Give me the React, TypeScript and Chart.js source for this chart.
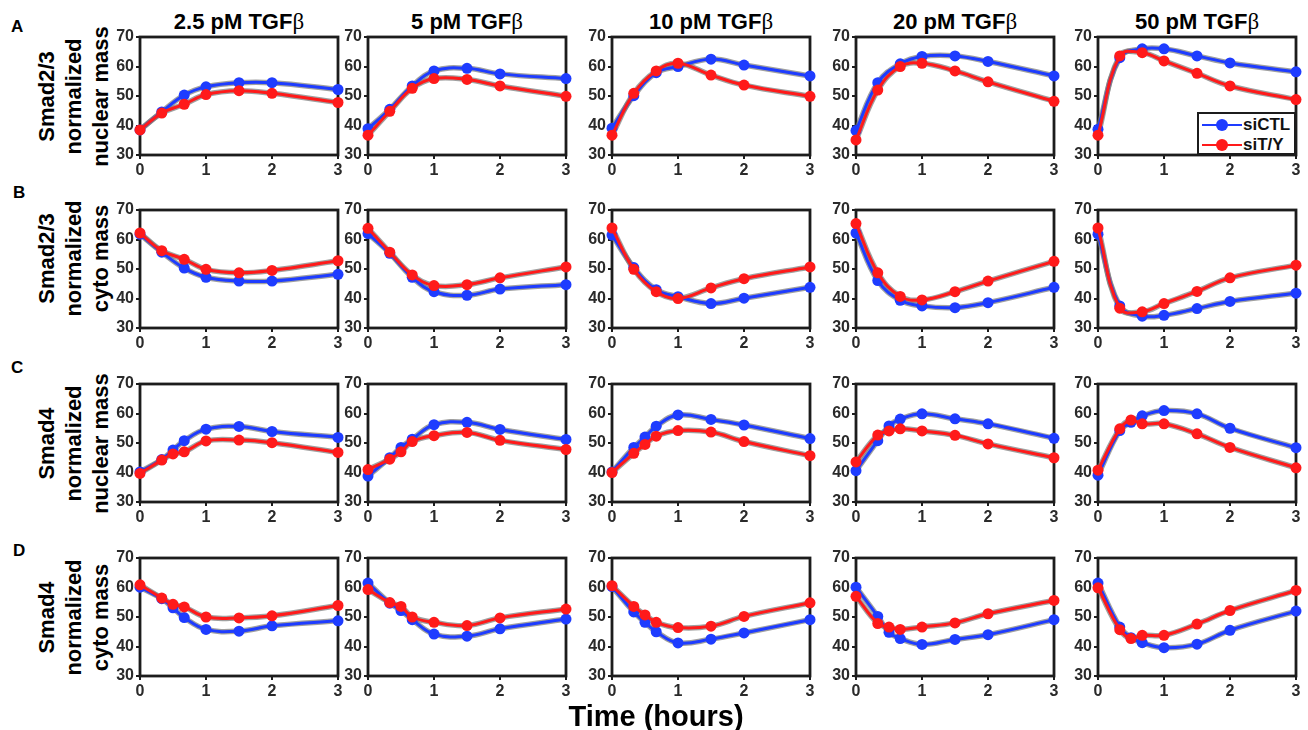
import React, { useEffect, useRef } from "react";
import { Chart, registerables } from "chart.js";

Chart.register(...registerables);

// ---------- data ----------
const timesAB = [0, 0.33, 0.67, 1, 1.5, 2, 3];
const timesCD = [0, 0.33, 0.5, 0.67, 1, 1.5, 2, 3];

const columnTitles = ["2.5 pM TGF", "5 pM TGF", "10 pM TGF", "20 pM TGF", "50 pM TGF"];
const rowLetters = ["A", "B", "C", "D"];
const rowTitles = [
  ["Smad2/3", "normalized", "nuclear mass"],
  ["Smad2/3", "normalized", "cyto mass"],
  ["Smad4", "normalized", "nuclear mass"],
  ["Smad4", "normalized", "cyto mass"],
];
const seriesNames = ["siCTL", "siT/Y"];
const xTickValues = [0, 1, 2, 3];
const yTickValues = [30, 40, 50, 60, 70];
const xAxisTitle = "Time (hours)";

// Row A: Smad2/3 nuclear
const smad23NucCTL = [
  [38.5, 44.6, 50.3, 53.1, 54.5, 54.5, 52.2],
  [38.9, 45.5, 53.4, 58.5, 59.4, 57.5, 55.9],
  [39.1, 50.1, 57.9, 60.0, 62.5, 60.5, 56.8],
  [38.3, 54.5, 60.9, 63.4, 63.6, 61.7, 56.8],
  [38.7, 63.0, 66.0, 66.0, 63.6, 61.2, 58.2],
];
const smad23NucTY = [
  [38.5, 44.2, 47.2, 50.5, 51.8, 50.9, 47.8],
  [36.7, 44.8, 52.6, 55.9, 55.6, 53.4, 49.9],
  [36.7, 50.9, 58.5, 61.1, 57.1, 53.7, 49.9],
  [35.1, 52.0, 60.0, 61.1, 58.5, 54.8, 48.2],
  [36.7, 63.6, 64.7, 61.9, 57.7, 53.4, 48.8],
];
// Row B: Smad2/3 cyto
const smad23CytoCTL = [
  [61.8, 55.7, 50.3, 47.2, 45.9, 45.9, 48.2],
  [62.0, 55.3, 47.2, 42.3, 41.1, 43.2, 44.7],
  [61.5, 50.5, 43.0, 40.6, 38.3, 40.1, 43.8],
  [62.2, 46.1, 39.4, 37.5, 36.9, 38.6, 43.8],
  [61.8, 37.5, 34.0, 34.3, 36.6, 39.0, 41.8],
];
const smad23CytoTY = [
  [62.2, 56.2, 53.3, 49.9, 48.7, 49.5, 52.8],
  [63.8, 55.7, 48.0, 44.4, 44.7, 47.0, 50.7],
  [63.9, 49.9, 42.3, 40.0, 43.6, 46.7, 50.7],
  [65.4, 48.7, 40.7, 39.5, 42.3, 45.9, 52.6],
  [63.9, 36.7, 35.5, 38.3, 42.4, 47.0, 51.3],
];
// Row C: Smad4 nuclear
const smad4NucCTL = [
  [40.2, 44.4, 47.6, 50.8, 54.7, 55.6, 53.9, 51.9],
  [38.8, 45.0, 48.5, 51.3, 56.2, 57.0, 54.6, 51.2],
  [40.2, 48.5, 52.0, 55.7, 59.5, 58.0, 56.1, 51.5],
  [40.6, 50.8, 55.8, 58.1, 59.9, 58.2, 56.5, 51.6],
  [39.1, 54.2, 57.0, 59.2, 61.0, 59.9, 55.0, 48.4],
];
const smad4NucTY = [
  [39.7, 44.2, 46.3, 47.0, 50.7, 51.0, 50.1, 46.8],
  [41.0, 44.5, 47.0, 50.5, 52.5, 53.6, 50.9, 47.8],
  [40.0, 46.5, 49.5, 52.3, 54.2, 53.7, 50.5, 45.7],
  [43.6, 52.7, 54.1, 54.8, 54.1, 52.6, 49.7, 45.0],
  [40.8, 54.8, 57.8, 56.5, 56.5, 53.1, 48.5, 41.6],
];
// Row D: Smad4 cyto
const smad4CytoCTL = [
  [60.1, 56.2, 53.1, 49.8, 45.8, 45.2, 47.0, 48.7],
  [61.5, 54.7, 52.2, 49.1, 44.2, 43.5, 46.0, 49.3],
  [60.3, 51.7, 48.2, 45.0, 41.2, 42.5, 44.6, 49.1],
  [60.1, 50.2, 44.8, 42.7, 40.7, 42.4, 44.0, 49.1],
  [61.5, 46.6, 43.0, 41.3, 39.6, 40.8, 45.5, 52.0],
];
const smad4CytoTY = [
  [60.9, 56.4, 54.3, 53.4, 50.0, 49.7, 50.4, 53.9],
  [59.3, 54.9, 53.6, 50.0, 48.2, 47.1, 49.7, 52.7],
  [60.6, 53.6, 50.7, 48.2, 46.4, 46.9, 50.2, 54.8],
  [57.0, 47.8, 46.6, 45.8, 46.6, 48.0, 51.1, 55.6],
  [59.9, 45.7, 42.7, 43.8, 43.8, 47.6, 52.2, 59.0],
];

const rows = [
  { times: timesAB, ctl: smad23NucCTL, ty: smad23NucTY },
  { times: timesAB, ctl: smad23CytoCTL, ty: smad23CytoTY },
  { times: timesCD, ctl: smad4NucCTL, ty: smad4NucTY },
  { times: timesCD, ctl: smad4CytoCTL, ty: smad4CytoTY },
];

// ---------- layout / style ----------
const PLOT_LEFTS = [140, 368, 612, 856, 1098];
const PLOT_TOPS = [37, 210, 384, 558];
const PLOT_W = 198;
const PLOT_H = 118;
const PAD_L = 44;
const PAD_T = 12;
const PAD_R = 12;
const PAD_B = 26;

const BLUE = "#1e3cff";
const RED = "#ff1a1a";
const GRAY = "rgba(120,120,120,0.7)";
const AXIS = "#1c1c1c";
const SANS = "'Liberation Sans', Arial, Helvetica, sans-serif";

const framePlugin = {
  id: "frame",
  beforeDatasetsDraw(chart: any) {
    const { ctx, chartArea: a } = chart;
    ctx.save();
    ctx.strokeStyle = AXIS;
    ctx.lineWidth = 2.8;
    ctx.strokeRect(a.left, a.top, a.right - a.left, a.bottom - a.top);
    ctx.restore();
  },
};

function Panel(props: { left: number; top: number; times: number[]; ctl: number[]; ty: number[] }) {
  const ref = useRef<HTMLCanvasElement | null>(null);
  const { left, top, times, ctl, ty } = props;
  useEffect(() => {
    if (!ref.current) return;
    const pts = (v: number[]) => v.map((y, i) => ({ x: times[i], y }));
    const tickFont = { family: SANS, weight: "bold" as const, size: 16 };
    const grid = {
      drawOnChartArea: false,
      drawTicks: true,
      tickLength: 4,
      color: AXIS,
      lineWidth: 2,
    };
    const line = (label: string, v: number[], color: string, order: number) => ({
      label,
      data: pts(v),
      borderColor: color,
      backgroundColor: color,
      pointBackgroundColor: color,
      pointBorderColor: color,
      borderWidth: 3,
      pointRadius: 5.5,
      pointBorderWidth: 0,
      tension: 0.4,
      order,
      clip: false,
    });
    const band = (label: string, v: number[], order: number) => ({
      label,
      data: pts(v),
      borderColor: GRAY,
      borderWidth: 5.5,
      pointRadius: 0,
      tension: 0.4,
      order,
      clip: false,
    });
    const chart = new Chart(ref.current, {
      type: "line",
      data: {
        datasets: [
          line(seriesNames[1], ty, RED, 0),
          line(seriesNames[0], ctl, BLUE, 1),
          band(seriesNames[1] + " sem", ty, 2),
          band(seriesNames[0] + " sem", ctl, 3),
        ],
      },
      options: {
        responsive: false,
        animation: false,
        devicePixelRatio: 1,
        layout: { padding: { top: PAD_T, right: PAD_R, left: 0, bottom: 0 } },
        plugins: { legend: { display: false }, tooltip: { enabled: false } },
        scales: {
          x: {
            type: "linear",
            min: xTickValues[0],
            max: xTickValues[xTickValues.length - 1],
            afterFit: (s: any) => {
              s.height = PAD_B;
            },
            afterBuildTicks: (s: any) => {
              s.ticks = xTickValues.map((v) => ({ value: v }));
            },
            ticks: { font: tickFont, color: "#2a2a2a", padding: 2, maxRotation: 0, autoSkip: false },
            grid,
            border: { display: false },
          },
          y: {
            type: "linear",
            min: yTickValues[0],
            max: yTickValues[yTickValues.length - 1],
            afterFit: (s: any) => {
              s.width = PAD_L;
            },
            afterBuildTicks: (s: any) => {
              s.ticks = yTickValues.map((v) => ({ value: v }));
            },
            ticks: { font: tickFont, color: "#2a2a2a", padding: 2, autoSkip: false },
            grid,
            border: { display: false },
          },
        },
      } as any,
      plugins: [framePlugin],
    });
    return () => chart.destroy();
  }, []);
  const w = PLOT_W + PAD_L + PAD_R;
  const h = PLOT_H + PAD_T + PAD_B;
  return (
    <canvas
      ref={ref}
      width={w}
      height={h}
      style={{ position: "absolute", left: left - PAD_L, top: top - PAD_T, width: w, height: h }}
    />
  );
}

function Legend() {
  const left = PLOT_LEFTS[4] + PLOT_W - 99;
  const top = PLOT_TOPS[0] + PLOT_H - 43;
  const entries = [
    { name: seriesNames[0], color: BLUE, y: 12 },
    { name: seriesNames[1], color: RED, y: 32 },
  ];
  return (
    <div
      style={{
        position: "absolute",
        left,
        top,
        width: 99,
        height: 43,
        boxSizing: "border-box",
        border: `2px solid ${AXIS}`,
        background: "#fff",
        zIndex: 2,
      }}
    >
      {entries.map((e) => (
        <React.Fragment key={e.name}>
          <div style={{ position: "absolute", left: 3, top: e.y - 2.5, width: 40, height: 2, background: e.color }} />
          <div
            style={{
              position: "absolute",
              left: 23 - 6,
              top: e.y - 1.5 - 6,
              width: 12,
              height: 12,
              borderRadius: 6,
              background: e.color,
            }}
          />
          <div
            style={{
              position: "absolute",
              left: 44,
              top: e.y - 1.5 - 10,
              height: 20,
              lineHeight: "20px",
              fontFamily: SANS,
              fontWeight: "bold",
              fontSize: 17,
              color: "#111",
              whiteSpace: "nowrap",
            }}
          >
            {e.name}
          </div>
        </React.Fragment>
      ))}
    </div>
  );
}

export default function App() {
  return (
    <div
      style={{
        position: "fixed",
        left: 0,
        top: 0,
        width: 1308,
        height: 730,
        background: "#fff",
        overflow: "hidden",
      }}
    >
      {columnTitles.map((t, c) => (
        <div
          key={"t" + c}
          style={{
            position: "absolute",
            left: PLOT_LEFTS[c] + PLOT_W / 2 - 100,
            width: 200,
            top: 8,
            height: 28,
            lineHeight: "28px",
            textAlign: "center",
            fontFamily: SANS,
            fontWeight: "bold",
            fontSize: 22,
            color: "#000",
            whiteSpace: "nowrap",
          }}
        >
          {t}
          <span style={{ fontFamily: "'Liberation Serif', 'DejaVu Serif', serif", fontWeight: "normal", fontSize: 23 }}>β</span>
        </div>
      ))}
      {rowLetters.map((l, r) => (
        <div
          key={"l" + r}
          style={{
            position: "absolute",
            left: r === 1 || r === 3 ? 13 : 11,
            top: [17, 183, 358, 541][r],
            fontFamily: SANS,
            fontWeight: "bold",
            fontSize: 17,
            color: "#000",
          }}
        >
          {l}
        </div>
      ))}
      {rowTitles.map((lines, r) => {
        const cy = r === 1 ? 258 : PLOT_TOPS[r] + PLOT_H / 2;
        return (
          <div
            key={"y" + r}
            style={{
              position: "absolute",
              left: 73 - 90,
              top: cy - 40.5,
              width: 180,
              height: 81,
              transform: "rotate(-90deg)",
              transformOrigin: "50% 50%",
              textAlign: "center",
              fontFamily: SANS,
              fontWeight: "bold",
              fontSize: 22,
              lineHeight: "27px",
              color: "#000",
            }}
          >
            {lines.map((ln) => (
              <div key={ln}>{ln}</div>
            ))}
          </div>
        );
      })}
      {rows.map((row, r) =>
        PLOT_LEFTS.map((left, c) => (
          <Panel
            key={`p${r}-${c}`}
            left={left}
            top={PLOT_TOPS[r]}
            times={row.times}
            ctl={row.ctl[c]}
            ty={row.ty[c]}
          />
        ))
      )}
      <Legend />
      <div
        style={{
          position: "absolute",
          left: 656 - 150,
          width: 300,
          top: 700,
          height: 32,
          lineHeight: "32px",
          textAlign: "center",
          fontFamily: SANS,
          fontWeight: "bold",
          fontSize: 29,
          color: "#000",
        }}
      >
        {xAxisTitle}
      </div>
    </div>
  );
}
